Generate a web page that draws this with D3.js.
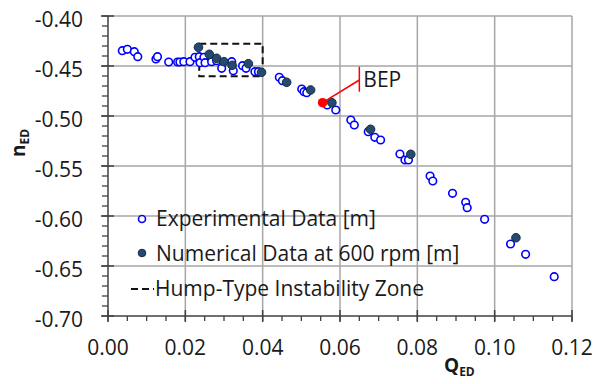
<!DOCTYPE html>
<html><head><meta charset="utf-8">
<script src="https://cdn.jsdelivr.net/npm/d3@7"></script>
<style>
html,body{margin:0;padding:0;background:#fff;}
svg{display:block;font-family:"Open Sans",Lato,sans-serif;}
</style></head>
<body><svg id="c" width="603" height="384"></svg>
<script>
// ---- data ----
const expQ = [0.0037,0.0050,0.0068,0.0077,0.0124,0.0128,0.0157,0.0180,0.0186,0.0196,0.0212,0.0225,0.0236,0.0238,0.0248,0.0251,0.0268,0.0281,0.0294,0.0320,0.0324,0.0348,0.0357,0.0380,0.0389,0.0443,0.0451,0.0501,0.0507,0.0514,0.0567,0.0589,0.0628,0.0637,0.0673,0.0690,0.0705,0.0755,0.0768,0.0777,0.0833,0.0840,0.0891,0.0925,0.0929,0.0974,0.1041,0.1080,0.1154];
const expN = [-0.4347,-0.4333,-0.4357,-0.4407,-0.4430,-0.4407,-0.4460,-0.4460,-0.4460,-0.4457,-0.4457,-0.4413,-0.4407,-0.4467,-0.4413,-0.4467,-0.4457,-0.4447,-0.4523,-0.4457,-0.4547,-0.4497,-0.4523,-0.4557,-0.4557,-0.4613,-0.4647,-0.4730,-0.4757,-0.4767,-0.4890,-0.4940,-0.5040,-0.5090,-0.5157,-0.5213,-0.5240,-0.5380,-0.5440,-0.5440,-0.5600,-0.5650,-0.5773,-0.5863,-0.5917,-0.6033,-0.6280,-0.6383,-0.6607];
const numQ = [0.0234,0.0262,0.0281,0.0300,0.0321,0.0363,0.0397,0.0462,0.0524,0.0579,0.0679,0.0783,0.1055];
const numN = [-0.4313,-0.4383,-0.4423,-0.4457,-0.4493,-0.4477,-0.4563,-0.4663,-0.4740,-0.4867,-0.5133,-0.5383,-0.6217];
const bepQ = [0.0555];
const bepN = [-0.4867];
const humpQ = [0.0236, 0.0400];
const humpN = [-0.4277, -0.4603];
const bepLabelQ = [0.0650];
const bepLabelN = [-0.4507, -0.4640, -0.4757];
const xTicks = [0.00,0.02,0.04,0.06,0.08,0.10,0.12];
const yTicks = [-0.40,-0.45,-0.50,-0.55,-0.60,-0.65,-0.70];
const legendLabels = ["Experimental Data [m]","Numerical Data at 600 rpm [m]","Hump-Type Instability Zone"];

// ---- layout ----
const svg = d3.select("#c");
const L=108, R=572, T=16, B=316;
const x = d3.scaleLinear().domain([0,0.12]).range([L,R]);
const y = d3.scaleLinear().domain([-0.70,-0.40]).range([B,T]);
const FONT = 21;
const gridCol = "#a6a6a6", axisCol = "#404040", txtCol = "#1a1a1a";

// grid
const g = svg.append("g");
g.selectAll("line.vx").data(xTicks.slice(1)).join("line")
  .attr("x1",d=>x(d)).attr("x2",d=>x(d)).attr("y1",T).attr("y2",B)
  .attr("stroke",gridCol).attr("stroke-width",1.5);
g.selectAll("line.hy").data(yTicks.slice(0,-1)).join("line")
  .attr("x1",L).attr("x2",R).attr("y1",d=>y(d)).attr("y2",d=>y(d))
  .attr("stroke",gridCol).attr("stroke-width",1.5);

// minor ticks
const xMinor = d3.range(0,0.1201,0.005);
const yMinor = d3.range(-0.70,-0.3999,0.01);
svg.append("g").selectAll("line").data(xMinor).join("line")
  .attr("x1",d=>x(d)).attr("x2",d=>x(d)).attr("y1",B).attr("y2",B+5)
  .attr("stroke",axisCol).attr("stroke-width",1.3);
svg.append("g").selectAll("line").data(yMinor).join("line")
  .attr("x1",L-6).attr("x2",L).attr("y1",d=>y(d)).attr("y2",d=>y(d))
  .attr("stroke",axisCol).attr("stroke-width",1.3);
// major ticks crossing
svg.append("g").selectAll("line").data(xTicks).join("line")
  .attr("x1",d=>x(d)).attr("x2",d=>x(d)).attr("y1",B-6).attr("y2",B+6)
  .attr("stroke",axisCol).attr("stroke-width",1.5);
svg.append("g").selectAll("line").data(yTicks).join("line")
  .attr("x1",L-7).attr("x2",L+6).attr("y1",d=>y(d)).attr("y2",d=>y(d))
  .attr("stroke",axisCol).attr("stroke-width",1.5);
// axis lines
svg.append("line").attr("x1",L).attr("x2",R).attr("y1",B).attr("y2",B).attr("stroke",axisCol).attr("stroke-width",1.5);
svg.append("line").attr("x1",L).attr("x2",L).attr("y1",T).attr("y2",B).attr("stroke",axisCol).attr("stroke-width",1.5);

// tick labels
svg.append("g").selectAll("text").data(xTicks).join("text")
  .attr("x",d=>x(d)).attr("y",355).attr("text-anchor","middle")
  .attr("font-size",FONT).attr("fill",txtCol).text(d=>d3.format(".2f")(d));
svg.append("g").selectAll("text").data(yTicks).join("text")
  .attr("x",83).attr("y",d=>y(d)+10.5).attr("text-anchor","end")
  .attr("font-size",FONT).attr("fill",txtCol).text(d=>d3.format(".2f")(d).replace("−","-"));

// axis titles
const xt = svg.append("text").attr("x",444).attr("y",372).attr("font-size",19).attr("font-weight","bold").attr("fill",txtCol);
xt.append("tspan").text("Q");
xt.append("tspan").attr("font-size",12).attr("dy",4).text("ED");
const yt = svg.append("text").attr("transform","translate(25,157) rotate(-90)").attr("font-size",19).attr("font-weight","bold").attr("fill",txtCol);
yt.append("tspan").text("n");
yt.append("tspan").attr("font-size",12).attr("dy",4).text("ED");

// hump box
svg.append("rect").attr("x",x(humpQ[0])).attr("y",y(humpN[0]))
  .attr("width",x(humpQ[1])-x(humpQ[0])).attr("height",y(humpN[1])-y(humpN[0]))
  .attr("fill","none").attr("stroke","#111").attr("stroke-width",2).attr("stroke-dasharray","7,4");

// experimental
svg.append("g").selectAll("circle").data(expQ.map((q,i)=>[q,expN[i]])).join("circle")
  .attr("cx",d=>x(d[0])).attr("cy",d=>y(d[1])).attr("r",3.8)
  .attr("fill","#fff").attr("stroke","#0000ff").attr("stroke-width",1.6);
// numerical
svg.append("g").selectAll("circle").data(numQ.map((q,i)=>[q,numN[i]])).join("circle")
  .attr("cx",d=>x(d[0])).attr("cy",d=>y(d[1])).attr("r",4.3)
  .attr("fill","#244a70").attr("stroke","#172b40").attr("stroke-width",1);

// BEP
svg.append("line").attr("x1",x(bepQ[0])).attr("y1",y(bepN[0])).attr("x2",x(bepLabelQ[0])).attr("y2",y(bepLabelN[1]))
  .attr("stroke","#ff0000").attr("stroke-width",1.5);
svg.append("line").attr("x1",x(bepLabelQ[0])).attr("x2",x(bepLabelQ[0])).attr("y1",y(bepLabelN[0])).attr("y2",y(bepLabelN[2]))
  .attr("stroke","#ff0000").attr("stroke-width",1.5);
svg.append("circle").attr("cx",x(bepQ[0])).attr("cy",y(bepN[0])).attr("r",4.8).attr("fill","#ff0000");
svg.append("text").attr("x",x(bepLabelQ[0])+4).attr("y",87).attr("font-size",21).attr("fill",txtCol).text("BEP");

// legend
const lg = svg.append("g");
lg.append("circle").attr("cx",142).attr("cy",219).attr("r",3.5).attr("fill","#fff").attr("stroke","#0000ff").attr("stroke-width",1.6);
lg.append("circle").attr("cx",142).attr("cy",253).attr("r",3.8).attr("fill","#244a70").attr("stroke","#172b40").attr("stroke-width",1);
lg.append("line").attr("x1",131).attr("x2",154).attr("y1",289).attr("y2",289).attr("stroke","#111").attr("stroke-width",2).attr("stroke-dasharray","7,4");
lg.selectAll("text").data(legendLabels).join("text")
  .attr("x",(d,i)=>i===2?155:156).attr("y",(d,i)=>[226,260.5,296][i])
  .attr("font-size",FONT).attr("fill",txtCol).text(d=>d);
</script></body></html>
